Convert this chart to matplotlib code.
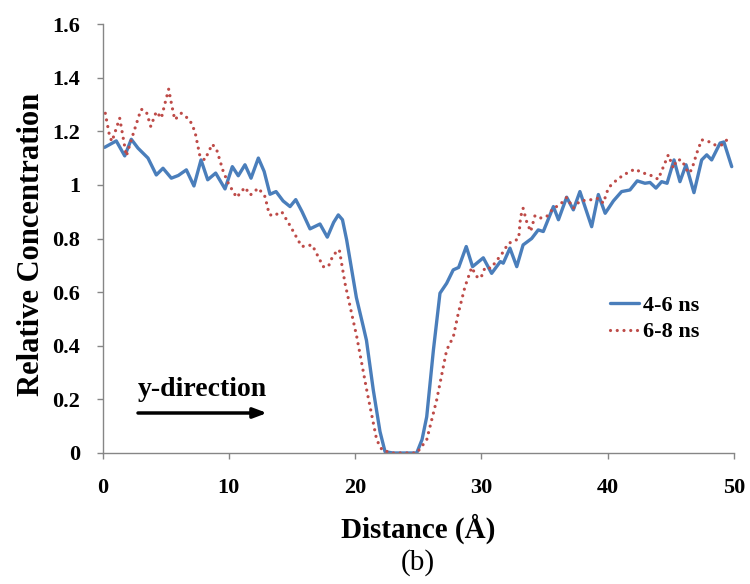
import matplotlib
matplotlib.use("Agg")
import matplotlib.pyplot as plt

# ---- data ----
x_46 = [0.17, 1.09, 1.76, 2.28, 2.81, 3.6, 4.26, 4.79, 5.45, 6.0, 6.64, 7.24, 7.8, 8.33,
        8.96, 9.7, 10.28, 10.75, 11.28, 11.76, 12.34, 12.8, 13.26, 13.74, 14.3, 14.85,
        15.3, 15.8, 16.43, 17.22, 17.8, 18.3, 18.67, 19.0, 19.33, 19.6, 20.1, 20.65,
        20.9, 21.44, 21.97, 22.37, 23.0, 24.0, 24.88, 25.3, 25.67, 26.2, 26.72, 27.25,
        27.77, 28.2, 28.8, 29.3, 30.15, 30.81, 31.5, 31.73, 32.26, 32.8, 33.3, 33.98,
        34.5, 34.9, 35.7, 36.1, 36.75, 37.28, 37.8, 38.73, 39.26, 39.8, 40.45, 41.1,
        41.76, 42.34, 42.95, 43.35, 43.82, 44.27, 44.7, 45.25, 45.72, 46.2, 46.83,
        47.44, 47.84, 48.23, 48.9, 49.2, 49.82]
y_46 = [1.14, 1.164, 1.108, 1.17, 1.137, 1.10, 1.037, 1.062, 1.025, 1.035, 1.056, 0.996,
        1.093, 1.019, 1.044, 0.985, 1.068, 1.034, 1.075, 1.025, 1.10, 1.05, 0.965, 0.975,
        0.94, 0.919, 0.945, 0.90, 0.836, 0.854, 0.805, 0.86, 0.888, 0.87, 0.795, 0.72,
        0.58, 0.471, 0.42, 0.235, 0.08, 0.005, 0.0, 0.0, 0.0, 0.05, 0.135, 0.384, 0.596,
        0.633, 0.683, 0.692, 0.77, 0.695, 0.728, 0.67, 0.714, 0.708, 0.764, 0.695, 0.776,
        0.80, 0.832, 0.826, 0.919, 0.87, 0.954, 0.907, 0.975, 0.844, 0.964, 0.894, 0.94,
        0.975, 0.981, 1.015, 1.006, 1.009, 0.988, 1.012, 1.006, 1.093, 1.012, 1.075,
        0.971, 1.093, 1.112, 1.093, 1.156, 1.16, 1.068]

x_68 = [0.22, 0.57, 0.75, 1.36, 1.89, 2.28, 2.95, 3.07, 3.47, 3.82, 4.26, 4.66, 4.92,
        5.24, 5.45, 5.72, 6.24, 6.9, 7.32, 7.72, 8.1, 8.69, 9.04, 9.56, 9.96, 10.62,
        11.28, 11.7, 12.34, 12.87, 13.2, 13.52, 14.19, 14.85, 15.77, 16.6, 17.48, 17.88,
        18.27, 18.75, 19.2, 20.13, 20.92, 21.71, 22.15, 23.0, 24.0, 24.88, 25.67, 26.46,
        27.25, 27.78, 28.17, 28.7, 29.23, 29.63, 29.95, 30.29, 30.75, 31.25, 31.73,
        32.13, 32.6, 32.95, 33.1, 33.3, 33.6, 33.9, 34.24, 34.64, 35.17, 35.7, 36.2,
        36.75, 37.28, 37.8, 38.6, 39.26, 39.65, 40.05, 40.45, 41.24, 42.16, 42.69,
        43.35, 44.0, 44.8, 45.2, 45.46, 45.86, 46.39, 46.65, 47.05, 47.44, 47.97, 48.5,
        49.03, 49.7]
y_68 = [1.267, 1.18, 1.162, 1.249, 1.108, 1.168, 1.267, 1.282, 1.273, 1.218, 1.273,
        1.249, 1.299, 1.357, 1.305, 1.243, 1.267, 1.243, 1.199, 1.106, 1.093, 1.152,
        1.131, 1.05, 1.006, 0.953, 0.991, 0.962, 0.988, 0.956, 0.89, 0.884, 0.90, 0.848,
        0.77, 0.776, 0.695, 0.695, 0.739, 0.758, 0.633, 0.434, 0.235, 0.049, 0.01, 0.0,
        0.0, 0.0, 0.049, 0.198, 0.384, 0.434, 0.521, 0.62, 0.692, 0.658, 0.652, 0.692,
        0.689, 0.72, 0.75, 0.782, 0.79, 0.80, 0.88, 0.913, 0.86, 0.826, 0.885, 0.876,
        0.882, 0.913, 0.925, 0.953, 0.913, 0.94, 0.944, 0.95, 0.932, 0.988, 1.008,
        1.037, 1.059, 1.046, 1.037, 1.021, 1.112, 1.062, 1.093, 1.093, 1.044, 1.056,
        1.118, 1.168, 1.162, 1.149, 1.149, 1.18]

series_labels = ["4-6 ns", "6-8 ns"]
x_ticks = [0, 10, 20, 30, 40, 50]
y_ticks = [0, 0.2, 0.4, 0.6, 0.8, 1.0, 1.2, 1.4, 1.6]
y_ticklabels = ["0", "0.2", "0.4", "0.6", "0.8", "1", "1.2", "1.4", "1.6"]

# ---- figure ----
W, H = 750, 584
fig = plt.figure(figsize=(W / 100, H / 100), dpi=100)
serif = ["Liberation Serif", "DejaVu Serif"]
plt.rcParams["font.family"] = serif

x0, x1 = 102.5, 734
y0, y1 = 453, 24
ax = fig.add_axes([x0 / W, 1 - y0 / H, (x1 - x0) / W, (y0 - y1) / H])

blue = "#4A7EBB"
red = "#BE4B48"
ax.plot(x_46, y_46, color=blue, lw=2.4, solid_capstyle="round",
        solid_joinstyle="round", label=series_labels[0])
ax.plot(x_68, y_68, color=red, lw=2.3, linestyle=(0, (0.01, 2.1)),
        dash_capstyle="round", label=series_labels[1])

ax.set_xlim(0, 50)
ax.set_ylim(0, 1.6)
ax.set_xticks(x_ticks)
ax.set_xticklabels([str(v) for v in x_ticks])
ax.set_yticks(y_ticks)
ax.set_yticklabels(y_ticklabels)

for s in ["top", "right"]:
    ax.spines[s].set_visible(False)
for s in ["left", "bottom"]:
    ax.spines[s].set_color("#868686")
    ax.spines[s].set_linewidth(1.0)
ax.tick_params(axis="both", direction="out", length=4, width=1, color="#868686",
               labelsize=16, labelcolor="black")
ax.tick_params(axis="y", pad=12)
ax.tick_params(axis="x", pad=14)
for lab in ax.get_xticklabels() + ax.get_yticklabels():
    lab.set_fontweight("bold")

# axis titles
fig.text(32 / W, 1 - 244 / H, "Relative Concentration", rotation=90, ha="center",
         va="center", fontsize=22, fontweight="bold")
fig.text(418 / W, 1 - 529 / H, "Distance (Å)", ha="center", va="center",
         fontsize=21, fontweight="bold")
fig.text(418 / W, 1 - 563 / H, "(b)", ha="center", va="center", fontsize=21)

# annotation
fig.text(138 / W, 1 - 390 / H, "y-direction", ha="left", va="center",
         fontsize=20, fontweight="bold")
ax.annotate("", xy=((267 - x0) / (x1 - x0), (y0 - 413) / (y0 - y1)),
            xytext=((138 - x0) / (x1 - x0), (y0 - 413) / (y0 - y1)),
            xycoords="axes fraction", textcoords="axes fraction",
            arrowprops=dict(arrowstyle="-|>,head_length=0.8,head_width=0.3",
                            color="black", lw=2.5, shrinkA=0, shrinkB=0))

leg = ax.legend(loc="center left", bbox_to_anchor=(610 / W, 1 - 319 / H),
                bbox_transform=fig.transFigure, frameon=False, borderpad=0,
                borderaxespad=0, handlelength=1.3, handletextpad=0.2,
                labelspacing=0.25, prop={"family": serif, "weight": "bold", "size": 16})

fig.savefig("out.png", dpi=100)
